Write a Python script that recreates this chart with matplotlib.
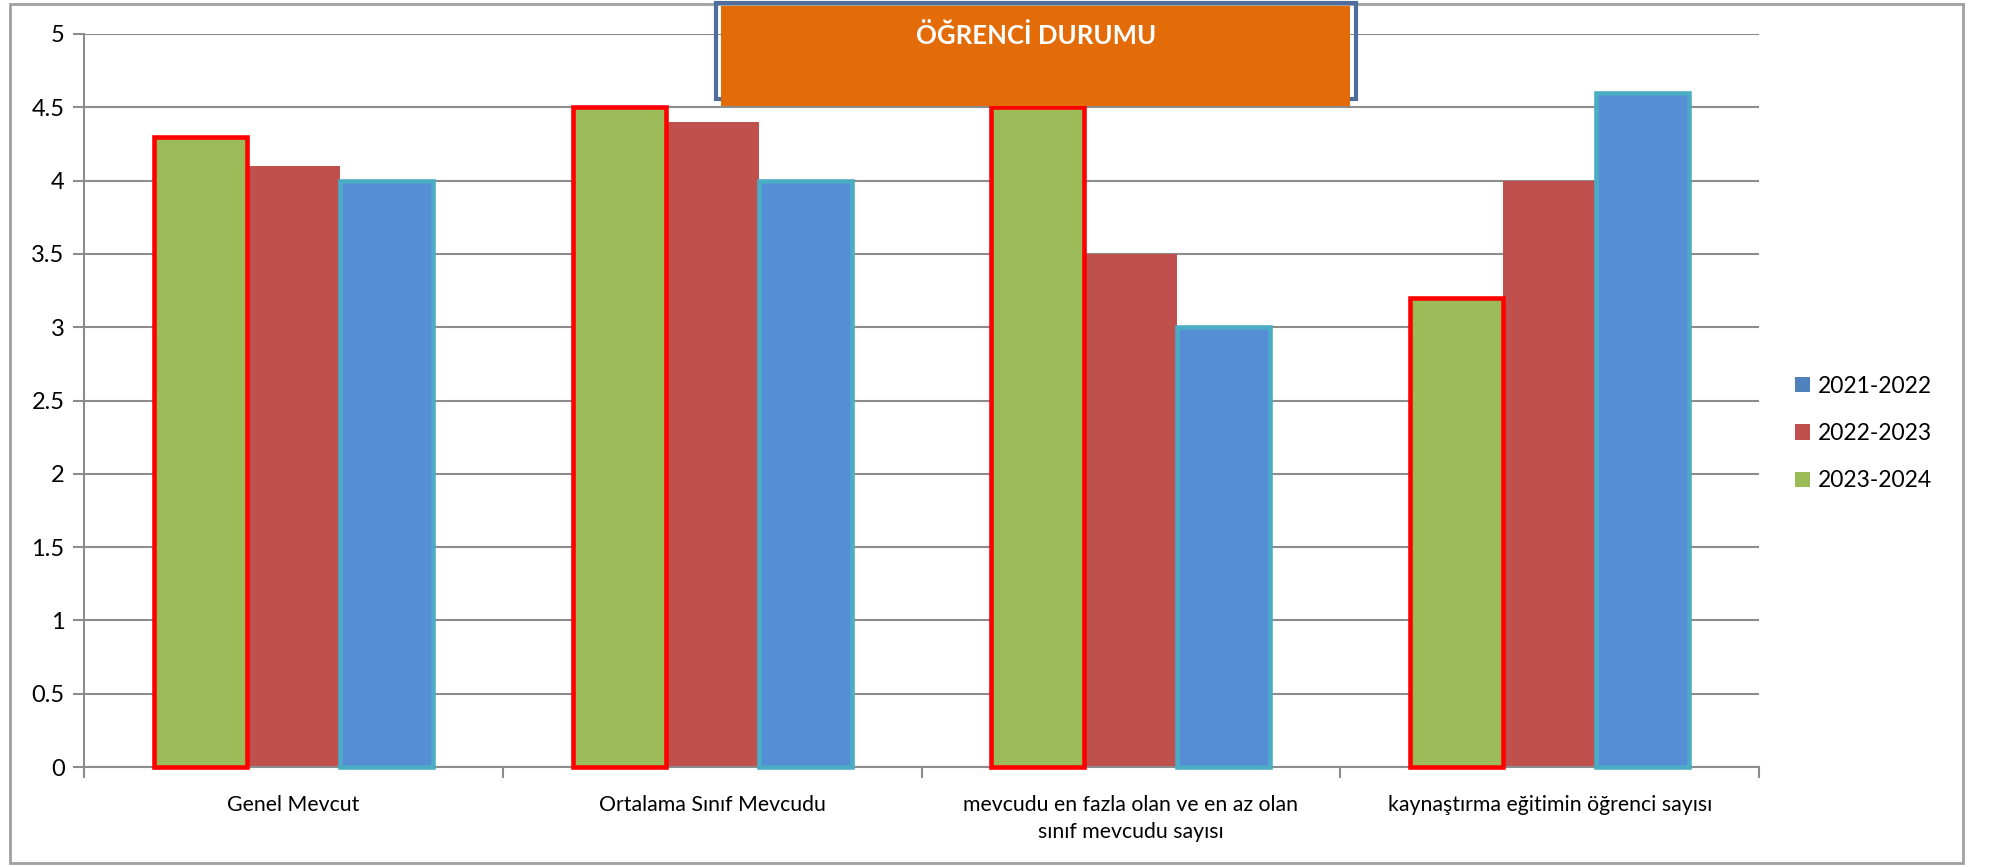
import numpy as np
import matplotlib
matplotlib.use("Agg")
import matplotlib.pyplot as plt
from matplotlib.patches import Patch, Rectangle

plt.rcParams['font.family'] = ['Lato', 'DejaVu Sans']

# Veriler
kategoriler = ["Genel Mevcut", "Ortalama Sınıf Mevcudu",
               "mevcudu en fazla olan ve en az olan\nsınıf mevcudu sayısı",
               "kaynaştırma eğitimin öğrenci sayısı"]
yil_2023_2024 = [4.3, 4.5, 4.5, 3.2]
yil_2022_2023 = [4.1, 4.4, 3.5, 4.0]
yil_2021_2022 = [4.0, 4.0, 3.0, 4.6]
y_ticks = [0, 0.5, 1, 1.5, 2, 2.5, 3, 3.5, 4, 4.5, 5]
baslik = "ÖĞRENCİ DURUMU"

yesil = "#9BBB59"
kirmizi = "#C0504D"
mavi = "#558ED5"
grid_gri = "#8C8C8C"

fig = plt.figure(figsize=(19.91, 8.67), dpi=100)
ax = fig.add_axes([0.0422, 0.1153, 0.8413, 0.8455])

x = np.arange(len(kategoriler))
w = 2 / 9

ax.bar(x - w, yil_2023_2024, w, color=yesil, edgecolor="#FF0000", linewidth=3.3,
       zorder=3, clip_on=False)
ax.bar(x, yil_2022_2023, w, color=kirmizi, linewidth=0, zorder=2, clip_on=False)
ax.bar(x + w, yil_2021_2022, w, color=mavi, edgecolor="#4BACC6", linewidth=3.3,
       zorder=3, clip_on=False)

ax.set_xlim(-0.5, len(kategoriler) - 0.5)
ax.set_ylim(0, 5)
ax.set_yticks(y_ticks)
ax.set_yticklabels([f"{v:g}" for v in y_ticks], fontsize=17)
ax.yaxis.grid(True, color=grid_gri, linewidth=1.5, zorder=0)
ax.set_axisbelow(True)

ax.set_xticks(x)
ax.set_xticklabels(kategoriler, fontsize=15.3, linespacing=1.45)
ax.set_xticks(np.arange(-0.5, len(kategoriler), 1), minor=True)
ax.tick_params(axis="x", which="major", length=0, pad=20)
ax.tick_params(axis="x", which="minor", length=8, width=1.5, color=grid_gri)
ax.tick_params(axis="y", length=8, width=1.5, color=grid_gri, pad=6)

for s in ["top", "right"]:
    ax.spines[s].set_visible(False)
for s in ["left", "bottom"]:
    ax.spines[s].set_color(grid_gri)
    ax.spines[s].set_linewidth(1.5)

# Lejant
handles = [Patch(facecolor="#4F81BD", label="2021-2022"),
           Patch(facecolor=kirmizi, label="2022-2023"),
           Patch(facecolor=yesil, label="2023-2024")]
fig.legend(handles=handles, loc="center left", bbox_to_anchor=(0.891, 0.50),
           frameon=False, fontsize=16.5, handlelength=0.65, handleheight=0.65,
           handletextpad=0.35, labelspacing=1.15)

# Başlık kutusu
fig.patches.append(Rectangle((716 / 1991, 1 - 99 / 867), 640 / 1991, 96 / 867,
                             transform=fig.transFigure, facecolor="none",
                             edgecolor="#4F6D9A", linewidth=3, zorder=5))
fig.patches.append(Rectangle((721 / 1991, 1 - 106 / 867), 629 / 1991, 100 / 867,
                             transform=fig.transFigure, facecolor="#E36C09",
                             edgecolor="none", zorder=6))
fig.text(1036 / 1991, 1 - 35 / 867, baslik, color="white", fontsize=18.5,
         fontweight="bold", ha="center", va="center", zorder=7)

# Dış çerçeve
fig.patches.append(Rectangle((10 / 1991, 4 / 867), 1953 / 1991, 859 / 867,
                             transform=fig.transFigure, facecolor="none",
                             edgecolor="#A0A0A0", linewidth=2, zorder=0))

plt.savefig("out.png", dpi=100)
